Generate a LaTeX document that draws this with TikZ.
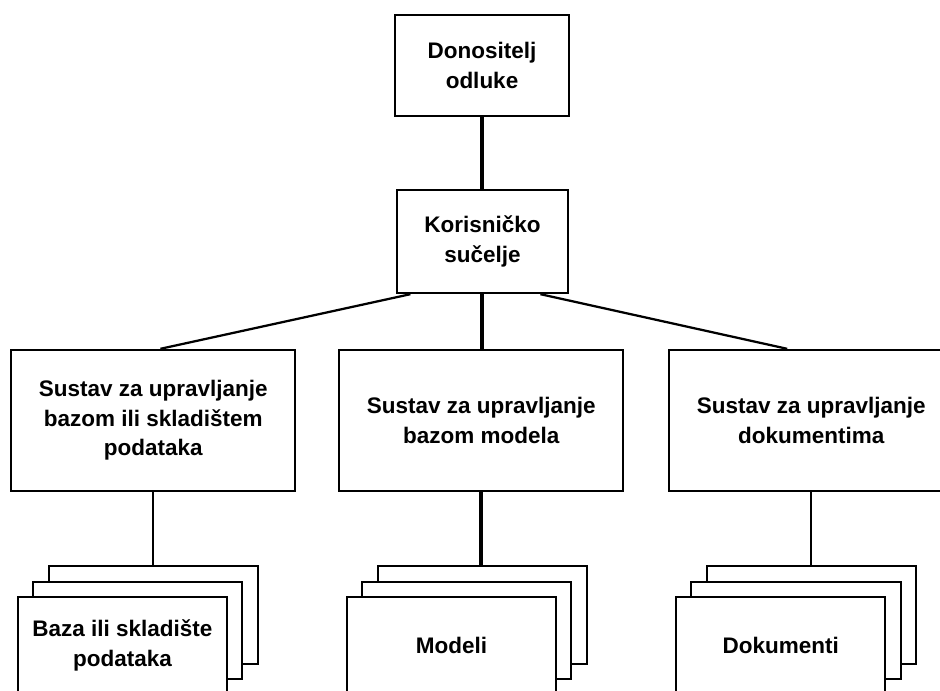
\documentclass[tikz,border=0pt]{standalone}
\usepackage{fontspec}
\setmainfont{Liberation Sans}
\usetikzlibrary{positioning}

\begin{document}
\begin{tikzpicture}[
  box/.style={draw,line width=1.4pt,fill=white,align=center,inner sep=0pt,font=\fontsize{16}{21}\selectfont\bfseries},
  sustav/.style={box,minimum width=7.1cm,minimum height=3.53cm},
  sheet/.style={box,minimum width=5.23cm,minimum height=2.43cm},
  link/.style={line width=1.6pt},
  thicklink/.style={line width=2.8pt},
]
  \useasboundingbox (0,0) rectangle (23.5,17.25);
  \clip (0,0) rectangle (23.5,17.25);

  \node[box,minimum width=4.33cm,minimum height=2.53cm] (odluka) at (12.05,15.61) {Donositelj\\odluke};
  \node[box,minimum width=4.28cm,minimum height=2.58cm] (sucelje) at (12.06,11.21) {Korisničko\\sučelje};

  \node[sustav] (sBaza) at (3.83,6.74) {Sustav za upravljanje\\bazom ili skladištem\\podataka};
  \node[sustav] (sModeli) at (12.03,6.74) {Sustav za upravljanje\\bazom modela};
  \node[sustav] (sDok) at (20.28,6.74) {Sustav za upravljanje\\dokumentima};

  % stacked sheets
  \node[sheet] (baza3) at (3.83,1.875) {};
  \node[sheet] (baza2) at (3.44,1.49) {};
  \node[sheet] (baza) at (3.06,1.11) {Baza ili skladište\\podataka};

  \node[sheet] (modeli3) at (12.06,1.875) {};
  \node[sheet] (modeli2) at (11.67,1.49) {};
  \node[sheet] (modeli) at (11.29,1.11) {Modeli};

  \node[sheet] (dok3) at (20.29,1.875) {};
  \node[sheet] (dok2) at (19.9,1.49) {};
  \node[sheet] (dok) at (19.52,1.11) {Dokumenti};

  % connectors
  \draw[thicklink] (odluka) -- (odluka |- sucelje.north);
  \draw[link] ([xshift=-1.8cm]sucelje.south) -- ([xshift=0.18cm]sBaza.north);
  \draw[thicklink] (sucelje) -- (sucelje |- sModeli.north);
  \draw[link] ([xshift=1.45cm]sucelje.south) -- ([xshift=-0.6cm]sDok.north);

  \draw[link] (sBaza) -- (sBaza |- baza3.north);
  \draw[thicklink] (sModeli) -- (sModeli |- modeli3.north);
  \draw[link] (sDok) -- (sDok |- dok3.north);
\end{tikzpicture}
\end{document}
